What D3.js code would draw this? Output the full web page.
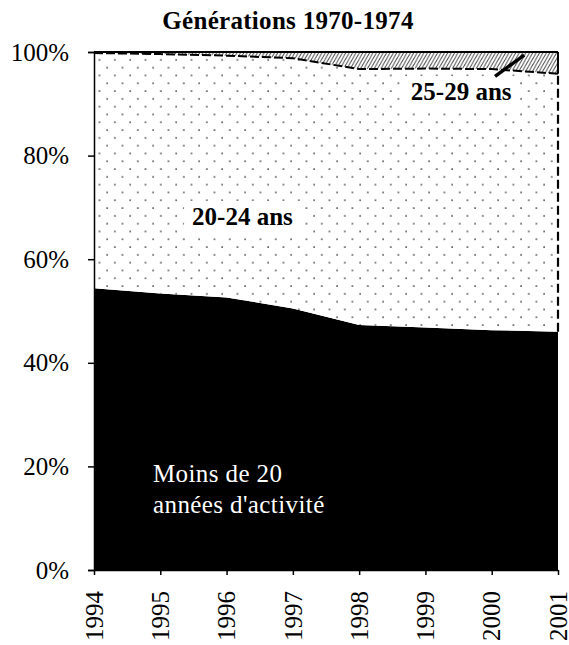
<!DOCTYPE html>
<html>
<head>
<meta charset="utf-8">
<script src="https://cdn.jsdelivr.net/npm/d3@7"></script>
<style>
  html, body { margin: 0; padding: 0; background: #fff; }
  svg text { font-family: "Liberation Serif", "Times New Roman", Tinos, "DejaVu Serif", serif !important; }
</style>
</head>
<body>
<svg id="chart" width="569" height="645"></svg>
<script>
// ---- data ----
const years = [1994, 1995, 1996, 1997, 1998, 1999, 2000, 2001];
const moins20 = [54.4, 53.4, 52.6, 50.5, 47.3, 46.8, 46.3, 46.0];
const ans2024 = [45.4, 46.2, 46.7, 48.3, 49.4, 50.0, 50.4, 49.8];
const ans2529 = [0.2, 0.4, 0.7, 1.2, 3.3, 3.2, 3.3, 4.2];
const yTicks = [0, 20, 40, 60, 80, 100];
const title = "Générations 1970-1974";
const seriesKeys = ["moins20", "ans2024", "ans2529"];
// leader line for 25-29 ans label, in data units (year, %)
const leader = [[2000.05, 95.3], [2000.49, 99.4]];

// ---- layout ----
const svg = d3.select("#chart");
const W = 569, H = 645;
const x = d3.scaleLinear().domain([1994, 2001]).range([94, 558]);
const y = d3.scaleLinear().domain([0, 100]).range([570, 52]);

svg.append("rect").attr("width", W).attr("height", H).attr("fill", "#fff");

const defs = svg.append("defs");
const dots = defs.append("pattern")
  .attr("id", "dots").attr("patternUnits", "userSpaceOnUse")
  .attr("x", 471.2).attr("y", 282.1)
  .attr("width", 15.33).attr("height", 15.6);
dots.append("rect").attr("width", 15.33).attr("height", 15.6).attr("fill", "#fff");
dots.append("rect").attr("x", 3.1).attr("y", 3.2).attr("width", 1.6).attr("height", 1.6).attr("fill", "#555");
dots.append("rect").attr("x", 10.8).attr("y", 11.0).attr("width", 1.6).attr("height", 1.6).attr("fill", "#555");

const hatch = defs.append("pattern")
  .attr("id", "hatch").attr("patternUnits", "userSpaceOnUse")
  .attr("width", 3.4).attr("height", 6);
hatch.append("rect").attr("width", 3.4).attr("height", 6).attr("fill", "#fff");
hatch.append("path")
  .attr("d", "M-1.7,6 L1.7,0 M1.7,6 L5.1,0")
  .attr("stroke", "#555").attr("stroke-width", 1.1);

// ---- stack ----
const table = years.map((yr, i) => ({
  year: yr, moins20: moins20[i], ans2024: ans2024[i], ans2529: ans2529[i]
}));
const stacked = d3.stack().keys(seriesKeys)(table);
const fills = { moins20: "#000", ans2024: "url(#dots)", ans2529: "url(#hatch)" };

const area = d3.area()
  .x(d => x(d.data.year))
  .y0(d => y(d[0]))
  .y1(d => y(d[1]));

svg.append("g").selectAll("path").data(stacked).join("path")
  .attr("d", area)
  .attr("fill", d => fills[d.key]);

// dashed boundary between 20-24 and 25-29
const s2024 = stacked[1];
svg.append("path")
  .attr("d", d3.line().x(d => x(d.data.year)).y(d => y(d[1]))(s2024))
  .attr("fill", "none").attr("stroke", "#000").attr("stroke-width", 2)
  .attr("stroke-dasharray", "9,3");

// right edge: dashed over 20-24, solid over 25-29
const last = s2024[s2024.length - 1];
svg.append("line")
  .attr("x1", x(2001)).attr("x2", x(2001))
  .attr("y1", y(last[0])).attr("y2", y(last[1]))
  .attr("stroke", "#000").attr("stroke-width", 2.2).attr("stroke-dasharray", "9,4");
svg.append("line")
  .attr("x1", x(2001)).attr("x2", x(2001))
  .attr("y1", y(last[1])).attr("y2", y(100))
  .attr("stroke", "#000").attr("stroke-width", 2);

// top border at 100%
svg.append("line")
  .attr("x1", x(1994)).attr("x2", x(2001))
  .attr("y1", y(100)).attr("y2", y(100))
  .attr("stroke", "#000").attr("stroke-width", 2);

// ---- axes ----
const yAxis = svg.append("g").attr("transform", `translate(${x(1994)},0)`)
  .call(d3.axisLeft(y).tickValues(yTicks).tickFormat(d => d + "%")
    .tickSize(6).tickPadding(19));
yAxis.selectAll("text").attr("font-size", 25).attr("fill", "#000");
yAxis.selectAll("line").attr("stroke", "#000").attr("stroke-width", 1.5);
yAxis.select(".domain").attr("stroke", "#000").attr("stroke-width", 1.5);

const xAxis = svg.append("g").attr("transform", `translate(0,${y(0)})`)
  .call(d3.axisBottom(x).tickValues(years).tickFormat(d3.format("d"))
    .tickSize(5).tickSizeOuter(0));
xAxis.select(".domain").attr("stroke", "#000").attr("stroke-width", 1.5);
xAxis.selectAll("line").attr("stroke", "#000").attr("stroke-width", 1.5);
xAxis.selectAll("text")
  .attr("font-size", 25).attr("fill", "#000")
  .attr("text-anchor", "end")
  .attr("transform", "rotate(-90)")
  .attr("x", -21).attr("y", 0).attr("dy", "0.33em");

// ---- title ----
svg.append("text")
  .attr("x", 288).attr("y", 29)
  .attr("text-anchor", "middle")
  .attr("font-size", 25).attr("font-weight", "bold")
  .attr("letter-spacing", 0.3)
  .text(title);

// ---- labels with white background ----
function boxedLabel(tx, ty, txt) {
  const g = svg.append("g");
  const r = g.append("rect").attr("fill", "#fff");
  const t = g.append("text").attr("x", tx).attr("y", ty)
    .attr("font-size", 25).attr("font-weight", "bold").text(txt);
  const b = t.node().getBBox();
  r.attr("x", b.x - 8).attr("y", b.y - 2).attr("width", b.width + 16).attr("height", b.height + 6);
}
boxedLabel(x(1995.48), y(66.6), "20-24 ans");
boxedLabel(x(1998.78), y(90.7), "25-29 ans");

// leader line
svg.append("line")
  .attr("x1", x(leader[0][0])).attr("y1", y(leader[0][1]))
  .attr("x2", x(leader[1][0])).attr("y2", y(leader[1][1]))
  .attr("stroke", "#000").attr("stroke-width", 3.5);

// label in black area
const lbl = svg.append("text").attr("fill", "#fff").attr("font-size", 25).attr("letter-spacing", 0.4);
lbl.append("tspan").attr("x", x(1994.89)).attr("y", y(16.9)).text("Moins de 20");
lbl.append("tspan").attr("x", x(1994.89)).attr("y", y(11.1)).text("années d'activité");
</script>
</body>
</html>
